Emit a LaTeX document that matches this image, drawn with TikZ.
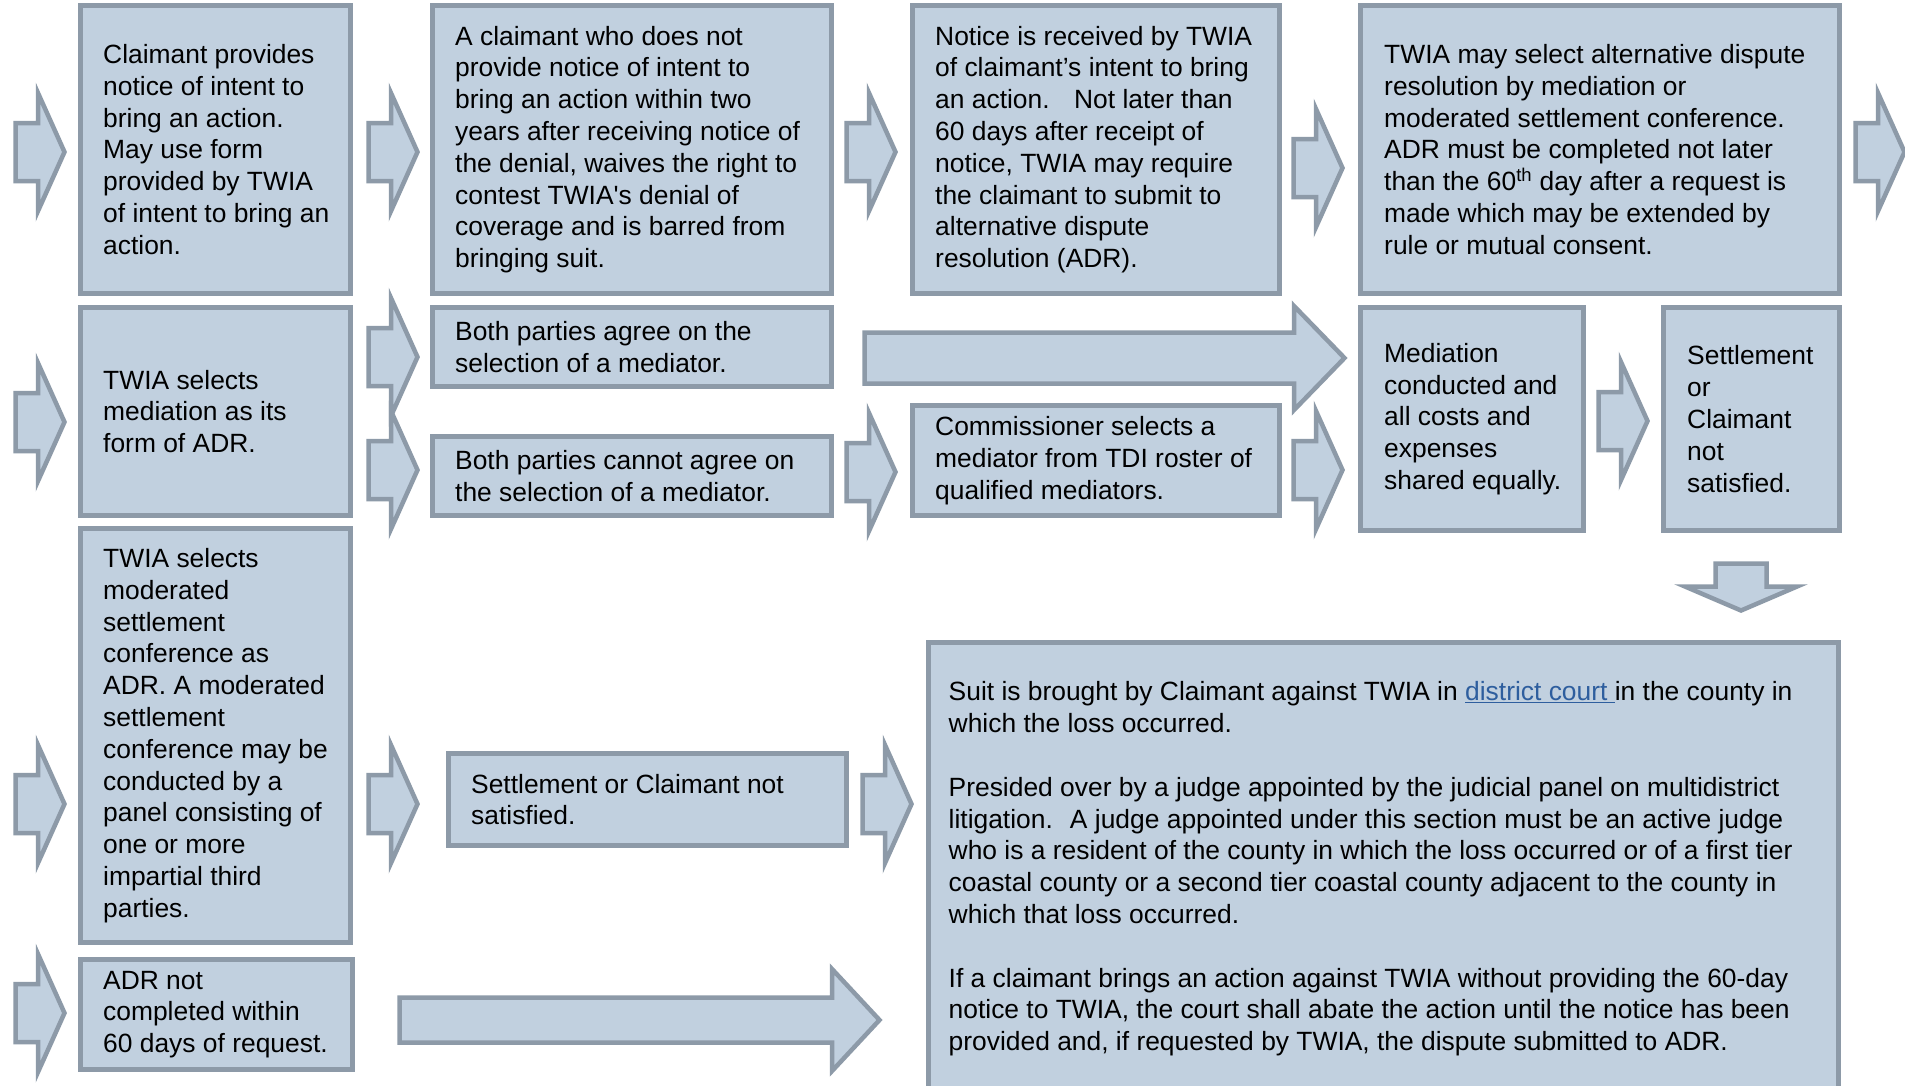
\documentclass[tikz,border=0pt]{standalone}
\usepackage{fontspec}
\setmainfont{Liberation Sans}
\usetikzlibrary{calc}
\definecolor{boxfill}{RGB}{193,208,223}
\definecolor{boxline}{RGB}{141,154,168}
\definecolor{linkblue}{RGB}{46,94,158}
\newcommand\mybox[5]{\node[box, minimum width={#4-#2-5}, minimum height={#5-#3-5}] (#1) at ({(#2+#4)/2},{(#3+#5)/2}) {};}
\newcommand\myarrow[6]{\draw[blk] (#1,#4-#5) -- (#2,#4-#5) -- (#2,#4-#6) -- (#3,#4) -- (#2,#4+#6) -- (#2,#4+#5) -- (#1,#4+#5) -- cycle;}
\newcommand\stdarrow[2]{\myarrow{#1+2.5}{#1+25}{#1+51.5}{#2}{29}{59}}
\begin{document}
\begin{tikzpicture}[x=1pt,y=-1pt,
  box/.style={draw=boxline, fill=boxfill, line width=5pt, inner sep=0pt, outer sep=0pt},
  txt/.style={align=left, inner sep=0pt, anchor=west, font=\fontsize{26.4}{31.8}\selectfont},
  blk/.style={draw=boxline, fill=boxfill, line width=4.5pt, line join=miter}]
\fill[white] (0,0) rectangle (1905,1085);
\useasboundingbox (0,0) rectangle (1905,1085);

% ---- boxes ----
\mybox{b1}{78}{3}{353}{296}
\mybox{b2}{430}{3}{834}{296}
\mybox{b3}{910}{3}{1282}{296}
\mybox{b4}{1358}{3}{1842}{296}
\mybox{med}{78}{305}{353}{518}
\mybox{agree}{430}{305}{834}{389}
\mybox{cannot}{430}{434}{834}{518}
\mybox{comm}{910}{403}{1282}{518}
\mybox{medc}{1358}{305}{1586}{533}
\mybox{setl}{1661}{305}{1842}{533}
\mybox{mod}{78}{526}{353}{945}
\mybox{snc}{446}{751}{849}{848}
\mybox{suit}{926}{640}{1841}{1100}
\mybox{adr}{78}{957}{355}{1072}

% ---- texts ----
\node[txt] (b1t) at ($(b1.west)+(22.5,0)$) {Claimant provides\\notice of intent to\\bring an action.\\May use form\\provided by TWIA\\of intent to bring an\\action.};
\node[txt] (b2t) at ($(b2.west)+(22.5,0)$) {A claimant who does not\\provide notice of intent to\\bring an action within two\\years after receiving notice of\\the denial, waives the right to\\contest TWIA\textquotesingle s denial of\\coverage and is barred from\\bringing suit.};
\node[txt] (b3t) at ($(b3.west)+(22.5,0)$) {Notice is received by TWIA\\of claimant’s intent to bring\\an action.~~ Not later than\\60 days after receipt of\\notice, TWIA may require\\the claimant to submit to\\alternative dispute\\resolution (ADR).};
\node[txt] (b4t) at ($(b4.west)+(23.5,0)$) {TWIA may select alternative dispute\\resolution by mediation or\\moderated settlement conference.\\ADR must be completed not later\\than the 60\textsuperscript{th} day after a request is\\made which may be extended by\\rule or mutual consent.};
\node[txt] (medt) at ($(med.west)+(22.5,0)$) {TWIA selects\\mediation as its\\form of ADR.};
\node[txt] (agreet) at ($(agree.west)+(22.5,0)$) {Both parties agree on the\\selection of a mediator.};
\node[txt] (cannott) at ($(cannot.west)+(22.5,0)$) {Both parties cannot agree on\\the selection of a mediator.};
\node[txt] (commt) at ($(comm.west)+(22.5,0)$) {Commissioner selects a\\mediator from TDI roster of\\qualified mediators.};
\node[txt] (medct) at ($(medc.west)+(23.5,0)$) {Mediation\\conducted and\\all costs and\\expenses\\shared equally.};
\node[txt] (setlt) at ($(setl.west)+(23.5,0)$) {Settlement\\or\\Claimant\\not\\satisfied.};
\node[txt] (modt) at ($(mod.west)+(22.5,0)$) {TWIA selects\\moderated\\settlement\\conference as\\ADR. A moderated\\settlement\\conference may be\\conducted by a\\panel consisting of\\one or more\\impartial third\\parties.};
\node[txt] (snct) at ($(snc.west)+(22.5,0)$) {Settlement or Claimant not\\satisfied.};
\node[txt] (suitt) at (948.5,869) {Suit is brought by Claimant against TWIA in {\color{linkblue}\underline{district court }}in the county in\\which the loss occurred.\\[31.8pt]Presided over by a judge appointed by the judicial panel on multidistrict\\litigation.~ A judge appointed under this section must be an active judge\\who is a resident of the county in which the loss occurred or of a first tier\\coastal county or a second tier coastal county adjacent to the county in\\which that loss occurred.\\[31.8pt]If a claimant brings an action against TWIA without providing the 60-day\\notice to TWIA, the court shall abate the action until the notice has been\\provided and, if requested by TWIA, the dispute submitted to ADR.};
\node[txt] (adrt) at ($(adr.west)+(22.5,0)$) {ADR not\\completed within\\60 days of request.};

% ---- block arrows ----
\stdarrow{13}{152}
\stdarrow{366}{152}
\stdarrow{844}{152}
\stdarrow{1291}{168}
\stdarrow{1853}{152}
\stdarrow{13}{422}
\stdarrow{366}{357}
\stdarrow{366}{470}
\myarrow{864.5}{1294}{1344.5}{358}{25.5}{52}
\stdarrow{844}{472}
\stdarrow{1291}{470}
\stdarrow{1596}{421}
\stdarrow{13}{804}
\stdarrow{366}{804}
\stdarrow{860}{804}
\stdarrow{13}{1013}
\myarrow{399.5}{832}{879.5}{1020}{22.5}{51}
% down arrow
\draw[blk] (1741-25.5,563.5) -- (1741+25.5,563.5) -- (1741+25.5,586.5) -- (1741+56,586.5) -- (1741,610.5) -- (1741-56,586.5) -- (1741-25.5,586.5) -- cycle;
\end{tikzpicture}
\end{document}
